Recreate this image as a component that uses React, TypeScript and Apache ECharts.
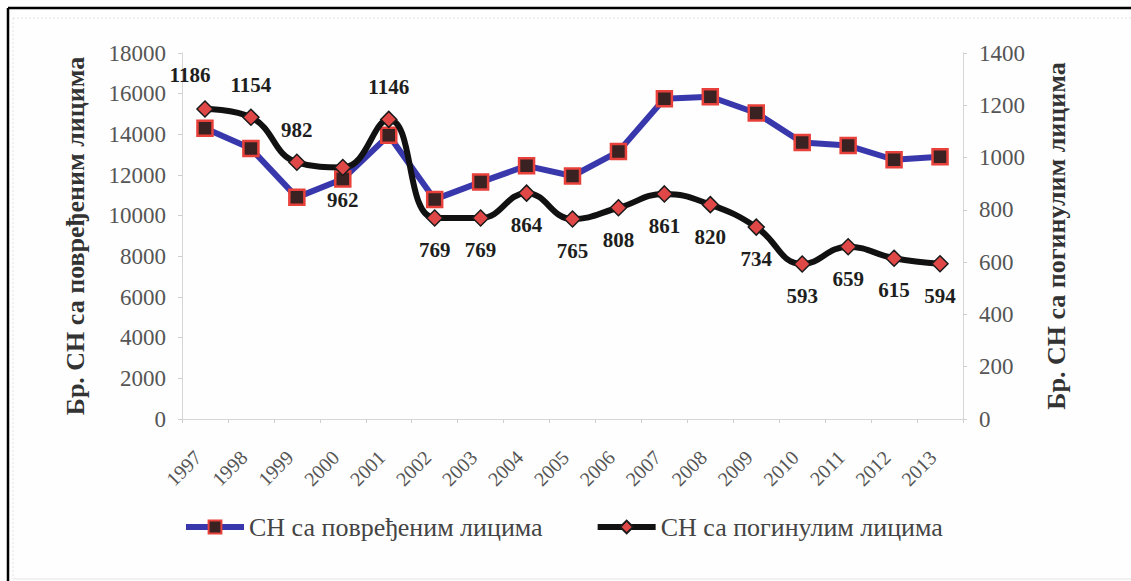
import React, { useEffect, useRef } from "react";
import * as echarts from "echarts";

const years = ["1997", "1998", "1999", "2000", "2001", "2002", "2003", "2004", "2005", "2006", "2007", "2008", "2009", "2010", "2011", "2012", "2013"];
const injured = [14300, 13300, 10900, 11800, 13950, 10800, 11650, 12450, 11950, 13150, 15750, 15850, 15050, 13600, 13450, 12750, 12900];
const killed = [1186, 1154, 982, 962, 1146, 769, 769, 864, 765, 808, 861, 820, 734, 593, 659, 615, 594];
const killedLabelPos = ["top", "top", "top", "bottom", "top", "bottom", "bottom", "bottom", "bottom", "bottom", "bottom", "bottom", "bottom", "bottom", "bottom", "bottom", "bottom"];
const leftTicks = { min: 0, max: 18000, interval: 2000 };
const rightTicks = { min: 0, max: 1400, interval: 200 };

const seriesNames = ["СН са повређеним лицима", "СН са погинулим лицима"];
const axisNames = ["Бр. СН са повређеним лицима", "Бр. СН са погинулим лицима"];

const FONT = "Liberation Serif, DejaVu Serif, Times New Roman, serif";

export default function App() {
  const ref = useRef<HTMLDivElement>(null);
  useEffect(() => {
    const chart = echarts.init(ref.current!, null, { renderer: "svg" });
    const axisLine = { show: true, lineStyle: { color: "#d6d6d6", width: 1 } };
    const axisTick = { show: true, length: 4, lineStyle: { color: "#d0d0d0" } };
    const plain = (v: number) => String(v);
    chart.setOption({
      animation: false,
      backgroundColor: "#fdfefd",
      textStyle: { fontFamily: FONT },
      grid: { left: 182, right: 168, top: 53, bottom: 162 },
      legend: {
        left: 178,
        top: 509,
        itemWidth: 58,
        itemHeight: 16,
        itemGap: 52,
        textStyle: { fontFamily: FONT, fontSize: 26, color: "#444" },
        data: [
          { name: seriesNames[0], lineStyle: { width: 6 } },
          { name: seriesNames[1], lineStyle: { width: 6 } },
        ],
      },
      xAxis: {
        type: "category",
        data: years,
        boundaryGap: true,
        axisLine,
        axisTick: { show: true, length: 4, lineStyle: { color: "#d0d0d0" } },
        axisLabel: {
          rotate: 45,
          margin: 28,
          padding: [0, 10, 0, 0],
          fontFamily: FONT,
          fontSize: 20,
          color: "#555",
          interval: 0,
        },
      },
      yAxis: [
        {
          type: "value",
          min: leftTicks.min,
          max: leftTicks.max,
          interval: leftTicks.interval,
          position: "left",
          axisLine,
          axisTick: { ...axisTick },
          splitLine: { show: false },
          axisLabel: { fontFamily: FONT, fontSize: 23, color: "#555", margin: 16, formatter: plain },
          name: axisNames[0],
          nameLocation: "middle",
          nameRotate: 90,
          nameGap: 94,
          nameTextStyle: { fontFamily: FONT, fontSize: 26, fontWeight: "bold", color: "#333" },
        },
        {
          type: "value",
          min: rightTicks.min,
          max: rightTicks.max,
          interval: rightTicks.interval,
          position: "right",
          axisLine,
          axisTick: { ...axisTick },
          splitLine: { show: false },
          axisLabel: { fontFamily: FONT, fontSize: 23, color: "#555", margin: 16, formatter: plain },
          name: axisNames[1],
          nameLocation: "middle",
          nameRotate: 90,
          nameGap: 80,
          nameTextStyle: { fontFamily: FONT, fontSize: 26, fontWeight: "bold", color: "#333" },
        },
      ],
      series: [
        {
          name: seriesNames[0],
          type: "line",
          yAxisIndex: 0,
          data: injured,
          smooth: false,
          lineStyle: { color: "#3838ac", width: 6 },
          itemStyle: { color: "#3a2222", borderColor: "#e8403a", borderWidth: 2.5 },
          symbol: "rect",
          symbolSize: 15,
          z: 2,
        },
        {
          name: seriesNames[1],
          type: "line",
          yAxisIndex: 1,
          data: killed.map((v, i) => ({
            value: v,
            label: {
              position: killedLabelPos[i],
              offset: i === 0 ? [-15, -2] : [0, 0],
            },
          })),
          smooth: 0.45,
          lineStyle: { color: "#111", width: 6 },
          itemStyle: { color: "#e04848", borderColor: "#1a1a1a", borderWidth: 1.5 },
          symbol: "diamond",
          symbolSize: 16,
          label: {
            show: true,
            distance: 13,
            fontFamily: FONT,
            fontSize: 21,
            fontWeight: "bold",
            color: "#1e1e1e",
          },
          z: 3,
        },
      ],
      graphic: [
        { type: "line", shape: { x1: 8, y1: 8, x2: 1131, y2: 8 }, style: { stroke: "#000", lineWidth: 2.5 } },
        { type: "line", shape: { x1: 8, y1: 8, x2: 8, y2: 581 }, style: { stroke: "#000", lineWidth: 2.5 } },
        { type: "line", shape: { x1: 13, y1: 18, x2: 1131, y2: 18 }, style: { stroke: "#e4e4e4", lineWidth: 1, lineDash: [2, 2] } },
        { type: "line", shape: { x1: 13, y1: 18, x2: 13, y2: 579 }, style: { stroke: "#e4e4e4", lineWidth: 1, lineDash: [2, 2] } },
        { type: "line", shape: { x1: 13, y1: 579, x2: 1131, y2: 579 }, style: { stroke: "#e4e4e4", lineWidth: 1 } },
      ],
    });
    return () => chart.dispose();
  }, []);
  return <div ref={ref} style={{ position: "absolute", left: 0, top: 0, width: 1131, height: 581 }} />;
}
